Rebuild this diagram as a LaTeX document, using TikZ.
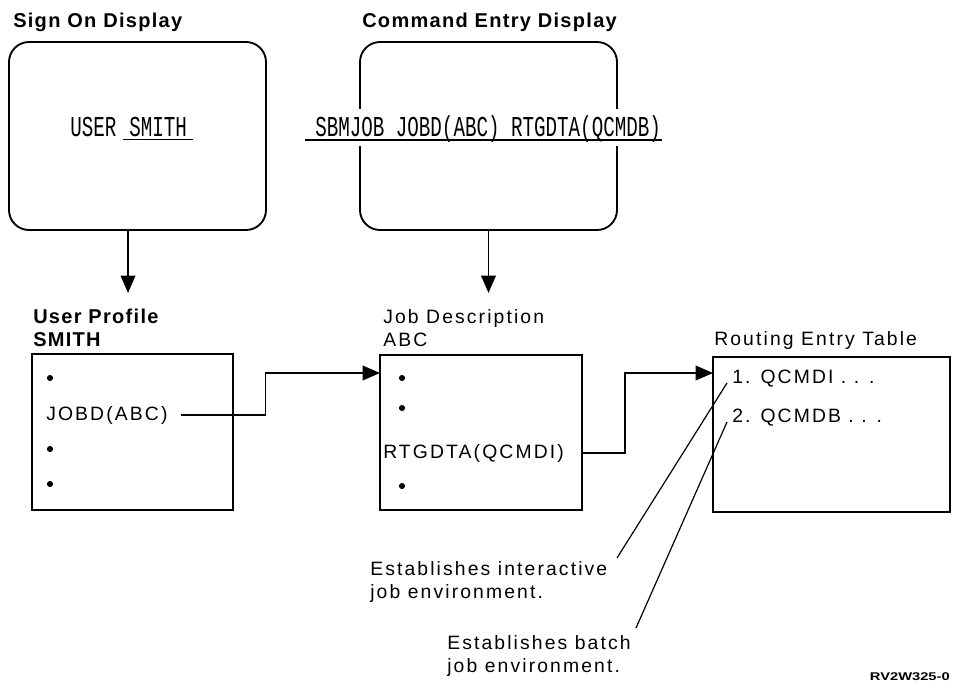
\documentclass[tikz,border=0pt]{standalone}
\usepackage{fontspec}
\setmainfont{Liberation Sans}
\newfontfamily\regf[LetterSpace=11]{Liberation Sans}
\newfontfamily\headf[LetterSpace=6.5]{Liberation Sans}
\newfontfamily\monof{Liberation Mono}
\usetikzlibrary{arrows.meta,calc}
\begin{document}
\begin{tikzpicture}[x=0.75pt,y=-0.75pt,
  box/.style={draw,line width=1.4pt,inner sep=0pt},
  rbox/.style={box,rounded corners=15pt},
  reg/.style={inner sep=0pt,anchor=base west,align=left,font=\regf\fontsize{14.5pt}{17.25pt}\selectfont},
  head/.style={inner sep=0pt,anchor=base west,align=left,font=\headf\bfseries\fontsize{15pt}{17.25pt}\selectfont},
  mono/.style={inner sep=0pt,anchor=base west,font=\monof\fontsize{18pt}{20pt}\selectfont},
  dot/.style={circle,fill,inner sep=0pt,minimum size=4.6pt},
  arr/.style={line width=1.1pt,-{Triangle[length=13pt,width=11pt]}},
  lead/.style={line width=0.9pt}]
\useasboundingbox (0,0) rectangle (953,694);

% titles
\node[head] (signtitle) at (13,27) {Sign On Display};
\node[head] (cmdtitle) at (362,27) {Command Entry Display};

% displays
\node[rbox,minimum width=192.75pt,minimum height=141pt] (signon) at (137.5,136) {};
\node[rbox,minimum width=192.75pt,minimum height=141pt] (cmdbox) at (488.5,136) {};

\node[mono] (usr) at (70,136) {\scalebox{0.8}[1.2]{USER}};
\node[mono,inner xsep=4.5pt,inner ysep=2.25pt,text depth=0pt] (smith) at (123,136) {\scalebox{0.8}[1.2]{SMITH}};
\draw[line width=0.9pt] (smith.south west) -- (smith.south east);

\node[mono,fill=white,text height=20.25pt,text depth=7.5pt] (cmdtxt) at (315,136)
  {\scalebox{0.8}[1.2]{SBMJOB JOBD(ABC) RTGDTA(QCMDB)}};
\draw[line width=0.9pt] ([shift={(-7.5pt,-3pt)}]cmdtxt.base west) -- ([shift={(0.75pt,-3pt)}]cmdtxt.base east);

% object boxes
\node[head] (uptitle) at (33,346) {User Profile\\SMITH};
\node[reg] (jdtitle) at (383,346) {Job Description\\ABC};
\node[reg] (rttitle) at (714,345) {Routing Entry Table};

\node[box,minimum width=150.75pt,minimum height=117pt] (upbox) at (132.5,432) {};
\node[box,minimum width=151.5pt,minimum height=116.25pt] (jdbox) at (481,432.5) {};
\node[box,minimum width=177.75pt,minimum height=116.25pt] (rtbox) at (831.5,434.5) {};

% user profile contents
\node[dot] (up1) at (50,378) {};
\node[reg] (jobd) at (46,420) {JOBD(ABC)};
\node[dot] (up3) at (50,449) {};
\node[dot] (up4) at (50,484) {};

% job description contents
\node[dot] (jd1) at (402,378) {};
\node[dot] (jd2) at (402,408) {};
\node[reg] (rtg) at (383,458) {RTGDTA(QCMDI)};
\node[dot] (jd4) at (402,486) {};

% routing entries
\node[reg] (e1) at (732,383) {1. QCMDI . . .};
\node[reg] (e2) at (732,422) {2. QCMDB . . .};

% arrows
\draw[arr] ([xshift=-7.1pt]signon.south) -- ++(0,62);
\draw[arr] (cmdbox.south) -- ++(0,62);

\coordinate (jdin) at (380,373);
\coordinate (rtin) at (713,373);
\draw[arr] ([xshift=9.75pt]jobd.east) -- ++(85,0) |- (jdin);
\draw[arr] (rtg.east -| jdbox.east) -- ++(42,0) |- (rtin);

% notes
\node[reg] (lab1) at (370,598) {Establishes interactive\\job environment.};
\node[reg] (lab2) at (447,672) {Establishes batch\\job environment.};
\coordinate (l1a) at (727,383);
\coordinate (l1b) at (617,558);
\coordinate (l2a) at (727,422);
\coordinate (l2b) at (636,628);
\draw[lead] (l1a) -- (l1b);
\draw[lead] (l2a) -- (l2b);

\node[inner sep=0pt,anchor=base east,font=\bfseries\fontsize{10.5pt}{12pt}\selectfont] (fig) at (950,680) {\scalebox{1.05}[0.8]{RV2W325-0}};
\end{tikzpicture}
\end{document}
